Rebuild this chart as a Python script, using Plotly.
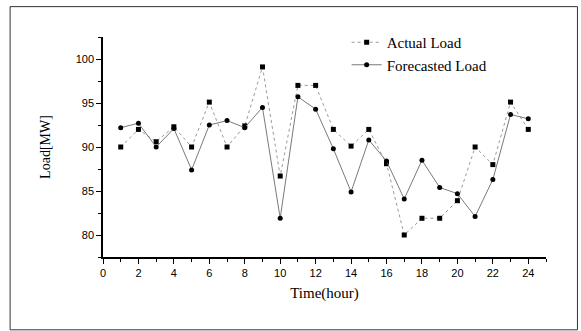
import plotly.graph_objects as go

hours = list(range(1, 25))
actual_load = [90.0, 92.0, 90.6, 92.3, 90.0, 95.1, 90.0, 92.4, 99.1, 86.7, 97.0, 97.0,
               92.0, 90.1, 92.0, 88.1, 80.0, 81.9, 81.9, 83.9, 90.0, 88.0, 95.1, 92.0]
forecasted_load = [92.2, 92.7, 90.0, 92.1, 87.4, 92.5, 93.0, 92.2, 94.5, 81.9, 95.7, 94.3,
                   89.8, 84.9, 90.8, 88.4, 84.1, 88.5, 85.4, 84.7, 82.1, 86.3, 93.7, 93.2]
x_ticks = list(range(0, 25, 2))
y_ticks = [80, 85, 90, 95, 100]

fig = go.Figure()
fig.add_trace(go.Scatter(
    x=hours, y=actual_load, mode="lines+markers", name="Actual Load",
    legendgroup="a",
    line=dict(color="#9a9a9a", width=1, dash="dot"),
    marker=dict(symbol="square", size=5, color="black"),
))
fig.add_trace(go.Scatter(
    x=hours, y=forecasted_load, mode="lines+markers", name="Forecasted Load",
    legendgroup="b",
    line=dict(color="#7a7a7a", width=1),
    marker=dict(symbol="circle", size=5, color="black"),
))

axis_common = dict(
    showline=True, linecolor="black", linewidth=1.5, mirror=False,
    showgrid=False, zeroline=False, ticks="outside", ticklen=5, tickwidth=1.2,
    tickcolor="black",
    tickfont=dict(family="Liberation Sans, Arial, sans-serif", size=11, color="black"),
)

fig.update_layout(
    width=581, height=331,
    margin=dict(l=103, r=34.5, t=36.5, b=74),
    paper_bgcolor="white", plot_bgcolor="white",
    showlegend=True,
    legend=dict(
        x=0.55, y=1.05, xanchor="left", yanchor="top",
        bgcolor="rgba(0,0,0,0)", traceorder="grouped", tracegroupgap=0,
        font=dict(family="Liberation Serif, Times New Roman, serif", size=15, color="black"),
        itemwidth=30,
    ),
    xaxis=dict(
        range=[0, 25], tickvals=x_ticks,
        minor=dict(dtick=1, ticks="outside", ticklen=3, tickcolor="black"),
        title=dict(text="Time(hour)", standoff=10,
                   font=dict(family="Liberation Serif, Times New Roman, serif", size=15, color="black")),
        **axis_common,
    ),
    yaxis=dict(
        range=[77.5, 102.5], tickvals=y_ticks,
        minor=dict(dtick=2.5, tick0=77.5, ticks="outside", ticklen=3, tickcolor="black"),
        title=dict(text="Load[MW]", standoff=22,
                   font=dict(family="Liberation Serif, Times New Roman, serif", size=14, color="black")),
        **axis_common,
    ),
    shapes=[dict(
        type="rect", xref="paper", yref="paper",
        x0=-0.2097, x1=1.071, y0=-0.331, y1=1.138,
        line=dict(color="#333333", width=1), fillcolor="rgba(0,0,0,0)", layer="below",
    )],
)

fig.write_html("out.html")
